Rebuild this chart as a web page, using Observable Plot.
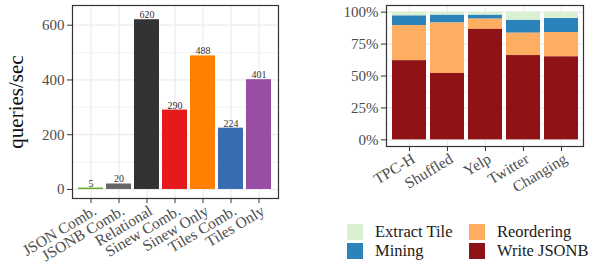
<!DOCTYPE html>
<html>
<head>
<meta charset="utf-8">
<script src="https://cdn.jsdelivr.net/npm/d3@7"></script>
<script src="https://cdn.jsdelivr.net/npm/@observablehq/plot@0.6"></script>
<style>
  body { margin: 0; background: white; font-family: "Liberation Serif", serif; }
  #wrap { display: flex; width: 590px; height: 265px; }
  #left { width: 300px; }
  #right { width: 290px; }
  #left g[aria-label="y-axis label"] text { font-size: 21px; fill: #111; }
  .legend { display: grid; grid-template-columns: 122px 120px; grid-template-rows: 16px 16px; grid-auto-flow: column; row-gap: 3px; margin-left: 47px; margin-top: 19px; font-size: 16.5px; color: #1a1a1a; }
  .item { display: flex; align-items: center; height: 16px; white-space: nowrap; }
  .sw { width: 16px; height: 16px; margin-right: 12px; flex: none; }
</style>
</head>
<body>
<div id="wrap"><div id="left"></div><div id="right"></div></div>
<script>
// Left chart data
const methods = ["JSON Comb.", "JSONB Comb.", "Relational", "Sinew Comb.", "Sinew Only", "Tiles Comb.", "Tiles Only"];
const queriesPerSec = [5, 20, 620, 290, 488, 224, 401];
const methodColors = ["#66a61e", "#666666", "#333333", "#e41a1c", "#ff7f00", "#386cb0", "#984ea3"];
const leftTicks = [0, 200, 400, 600];

// Right chart data
const datasets = ["TPC-H", "Shuffled", "Yelp", "Twitter", "Changing"];
const phases = ["Extract Tile", "Mining", "Reordering", "Write JSONB"];
const phaseColors = ["#d9f0d3", "#2b83ba", "#fdae61", "#8e1216"];
const extractTile = [3, 2.5, 2.5, 6.5, 5];
const mining = [7.5, 6, 3, 10, 11];
const reordering = [27.5, 39.5, 8, 17.5, 19];
const writeJsonb = [62, 52, 86.5, 66, 65];
const rightTicks = [0, 25, 50, 75, 100];

const gridColor = "#ebebeb";
const rot = -31;

const leftData = methods.map((m, i) => ({method: m, qps: queriesPerSec[i]}));
const left = Plot.plot({
  width: 300, height: 265,
  marginLeft: 72, marginRight: 22, marginTop: 5, marginBottom: 67,
  style: {fontFamily: "Liberation Serif", fontSize: "15px", color: "#4d4d4d", background: "white", overflow: "visible"},
  x: {domain: methods, paddingInner: 0.1, paddingOuter: 0.14},
  y: {domain: [-33, 672]},
  color: {domain: methods, range: methodColors},
  marks: [
    Plot.gridY([100, 300, 500], {stroke: gridColor, strokeOpacity: 1, strokeWidth: 0.6}),
    Plot.gridY(leftTicks, {stroke: gridColor, strokeOpacity: 1, strokeWidth: 1.2}),
    Plot.gridX(methods, {stroke: gridColor, strokeOpacity: 1, strokeWidth: 1.2}),
    Plot.barY(leftData, {x: "method", y: "qps", fill: "method"}),
    Plot.text(leftData, {x: "method", y: "qps", text: d => String(d.qps), dy: -1.5, lineAnchor: "bottom", fontSize: 10, fill: "#333"}),
    Plot.axisX({text: null, tickSize: 5, stroke: "#333", label: null}),
    Plot.axisX({tickRotate: rot, tickSize: 0, tickPadding: 7, dx: 4, dy: 4, fontSize: 15.5, label: null}),
    Plot.axisY(leftTicks, {tickSize: 5, tickPadding: 3, stroke: "#333", label: "queries/sec", labelAnchor: "center", labelArrow: "none", labelOffset: 64}),
    Plot.frame({stroke: "#333", strokeWidth: 1.2})
  ]
});
document.getElementById("left").appendChild(left);

const rightData = [];
const series = {"Extract Tile": extractTile, "Mining": mining, "Reordering": reordering, "Write JSONB": writeJsonb};
datasets.forEach((d, i) => phases.forEach(p => rightData.push({dataset: d, phase: p, value: series[p][i]})));

const right = Plot.plot({
  width: 290, height: 205,
  marginLeft: 86, marginRight: 7, marginTop: 5, marginBottom: 59,
  style: {fontFamily: "Liberation Serif", fontSize: "15px", color: "#4d4d4d", background: "white", overflow: "visible"},
  x: {domain: datasets, paddingInner: 0.11, paddingOuter: 0.09},
  y: {domain: [-5.2, 105.2]},
  color: {domain: phases, range: phaseColors},
  marks: [
    Plot.gridY([12.5, 37.5, 62.5, 87.5], {stroke: gridColor, strokeOpacity: 1, strokeWidth: 0.6}),
    Plot.gridY(rightTicks, {stroke: gridColor, strokeOpacity: 1, strokeWidth: 1.2}),
    Plot.gridX(datasets, {stroke: gridColor, strokeOpacity: 1, strokeWidth: 1.2}),
    Plot.barY(rightData, {x: "dataset", y: "value", fill: "phase", order: ["Write JSONB", "Reordering", "Mining", "Extract Tile"]}),
    Plot.axisX({text: null, tickSize: 5, stroke: "#333", label: null}),
    Plot.axisX({tickRotate: rot, tickSize: 0, tickPadding: 7, dx: 4, dy: 4, fontSize: 15.5, label: null}),
    Plot.axisY(rightTicks, {tickSize: 5, tickPadding: 3, stroke: "#333", label: null, tickFormat: d => d + "%"}),
    Plot.frame({stroke: "#333", strokeWidth: 1.2})
  ]
});
const rightDiv = document.getElementById("right");
rightDiv.appendChild(right);

const legend = document.createElement("div");
legend.className = "legend";
phases.forEach((p, i) => {
  const item = document.createElement("div");
  item.className = "item";
  const sw = document.createElement("span");
  sw.className = "sw";
  sw.style.background = phaseColors[i];
  const lab = document.createElement("span");
  lab.textContent = p;
  item.appendChild(sw); item.appendChild(lab);
  legend.appendChild(item);
});
rightDiv.appendChild(legend);
</script>
</body>
</html>
